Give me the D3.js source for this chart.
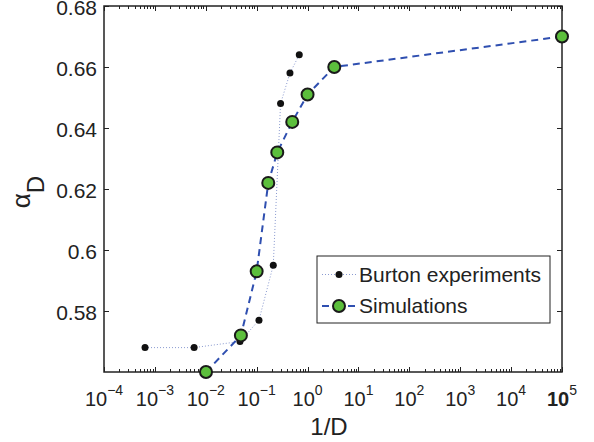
<!DOCTYPE html>
<html>
<head>
<meta charset="utf-8">
<script src="https://cdn.jsdelivr.net/npm/d3@7"></script>
<style>
body { margin: 0; background: #fff; }
text { font-family: "Liberation Sans", Arial, sans-serif; fill: #222; }
</style>
</head>
<body>
<script>
// Burton experiments
var burtonX = [0.00064, 0.0059, 0.047, 0.111, 0.212, 0.295, 0.451, 0.687];
var burtonY = [0.568, 0.568, 0.570, 0.577, 0.595, 0.648, 0.658, 0.664];

// simulations
var simX = [0.0101, 0.049, 0.1, 0.169, 0.254, 0.5, 1.0, 3.35, 100000];
var simY = [0.560, 0.572, 0.593, 0.622, 0.632, 0.642, 0.651, 0.660, 0.670];

var xTickExp = [-4, -3, -2, -1, 0, 1, 2, 3, 4, 5];
var yTicks = [0.58, 0.6, 0.62, 0.64, 0.66, 0.68];
var seriesNames = ["Burton experiments", "Simulations"];

var width = 594, height = 442;
var plotL = 104, plotR = 562, plotT = 6, plotB = 372;

var svg = d3.select("body").append("svg")
    .attr("width", width)
    .attr("height", height);

var x = d3.scaleLog().domain([1e-4, 1e5]).range([plotL, plotR]);
var y = d3.scaleLinear().domain([0.56, 0.68]).range([plotB, plotT]);

var burton = burtonX.map(function(d, i) { return [d, burtonY[i]]; });
var sims = simX.map(function(d, i) { return [d, simY[i]]; });

var line = d3.line()
    .x(function(d) { return x(d[0]); })
    .y(function(d) { return y(d[1]); });

// minor ticks for log axis
var minor = [];
xTickExp.forEach(function(e) {
  if (e < 5) for (var k = 2; k < 10; k++) minor.push(k * Math.pow(10, e));
});

var ax = svg.append("g").attr("stroke", "#222").attr("stroke-width", 1);

// x ticks, inward on bottom and top
xTickExp.forEach(function(e) {
  var px = Math.round(x(Math.pow(10, e))) + 0.5;
  ax.append("line").attr("x1", px).attr("x2", px).attr("y1", plotB).attr("y2", plotB - 5);
  ax.append("line").attr("x1", px).attr("x2", px).attr("y1", plotT).attr("y2", plotT + 5);
});
minor.forEach(function(v) {
  var px = Math.round(x(v)) + 0.5;
  ax.append("line").attr("x1", px).attr("x2", px).attr("y1", plotB).attr("y2", plotB - 3);
  ax.append("line").attr("x1", px).attr("x2", px).attr("y1", plotT).attr("y2", plotT + 3);
});
// y ticks inward on both sides
yTicks.forEach(function(v) {
  var py = Math.round(y(v)) + 0.5;
  ax.append("line").attr("x1", plotL).attr("x2", plotL + 5).attr("y1", py).attr("y2", py);
  ax.append("line").attr("x1", plotR).attr("x2", plotR - 5).attr("y1", py).attr("y2", py);
});

// box
svg.append("rect")
    .attr("x", plotL).attr("y", plotT)
    .attr("width", plotR - plotL).attr("height", plotB - plotT)
    .attr("fill", "none").attr("stroke", "#222").attr("stroke-width", 1.5);

// x tick labels
xTickExp.forEach(function(e) {
  var t = svg.append("text")
      .attr("x", x(Math.pow(10, e)))
      .attr("y", 406)
      .attr("text-anchor", "middle")
      .style("font-size", "20px")
      .style("font-weight", e === 5 ? "bold" : "normal");
  t.append("tspan").text("10");
  t.append("tspan").attr("dy", -11).style("font-size", "14px")
      .style("font-weight", "normal")
      .text(e < 0 ? "\u2212" + (-e) : e);
});

// y tick labels
yTicks.forEach(function(v) {
  svg.append("text")
      .attr("x", plotL - 7)
      .attr("y", y(v) + 9)
      .attr("text-anchor", "end")
      .style("font-size", "21px")
      .text(d3.format("")(+v.toFixed(2)));
});

// axis labels
svg.append("text")
    .attr("x", 329)
    .attr("y", 435)
    .attr("text-anchor", "middle")
    .style("font-size", "24px")
    .text("1/D");

var yl = svg.append("text")
    .attr("transform", "translate(30,192) rotate(-90)")
    .attr("text-anchor", "middle")
    .style("font-size", "26px");
yl.append("tspan").text("\u03b1");
yl.append("tspan").attr("dy", 14).style("font-size", "24px").text("D");

// Burton line + dots
svg.append("path")
    .datum(burton)
    .attr("d", line)
    .attr("fill", "none")
    .attr("stroke", "#8a9ad0")
    .attr("stroke-width", 1)
    .attr("stroke-dasharray", "1,2");

svg.selectAll("circle.burton")
    .data(burton)
    .enter()
    .append("circle")
    .attr("class", "burton")
    .attr("cx", function(d) { return x(d[0]); })
    .attr("cy", function(d) { return y(d[1]); })
    .attr("r", 3.5)
    .attr("fill", "#111");

// Simulations
svg.append("path")
    .datum(sims)
    .attr("d", line)
    .attr("fill", "none")
    .attr("stroke", "#2f4fb0")
    .attr("stroke-width", 2)
    .attr("stroke-dasharray", "7,5");

svg.selectAll("circle.sim")
    .data(sims)
    .enter()
    .append("circle")
    .attr("class", "sim")
    .attr("cx", function(d) { return x(d[0]); })
    .attr("cy", function(d) { return y(d[1]); })
    .attr("r", 6)
    .attr("fill", "#5cbf3c")
    .attr("stroke", "#1a1a1a")
    .attr("stroke-width", 2);

// legend
var lg = svg.append("g");
lg.append("rect")
    .attr("x", 317).attr("y", 256)
    .attr("width", 233).attr("height", 67)
    .attr("fill", "#fff").attr("stroke", "#222").attr("stroke-width", 1);

lg.append("line")
    .attr("x1", 322).attr("x2", 356).attr("y1", 274.5).attr("y2", 274.5)
    .attr("stroke", "#8a9ad0").attr("stroke-dasharray", "1,2");
lg.append("circle").attr("cx", 339).attr("cy", 274.5).attr("r", 3.5).attr("fill", "#111");

lg.append("line")
    .attr("x1", 322).attr("x2", 356).attr("y1", 306).attr("y2", 306)
    .attr("stroke", "#2f4fb0").attr("stroke-width", 2).attr("stroke-dasharray", "7,6");
lg.append("circle").attr("cx", 339).attr("cy", 306).attr("r", 6)
    .attr("fill", "#5cbf3c").attr("stroke", "#1a1a1a").attr("stroke-width", 2);

seriesNames.forEach(function(n, i) {
  lg.append("text")
      .attr("x", 359)
      .attr("y", [282, 313][i])
      .style("font-size", "21px")
      .text(n);
});
</script>
</body>
</html>
